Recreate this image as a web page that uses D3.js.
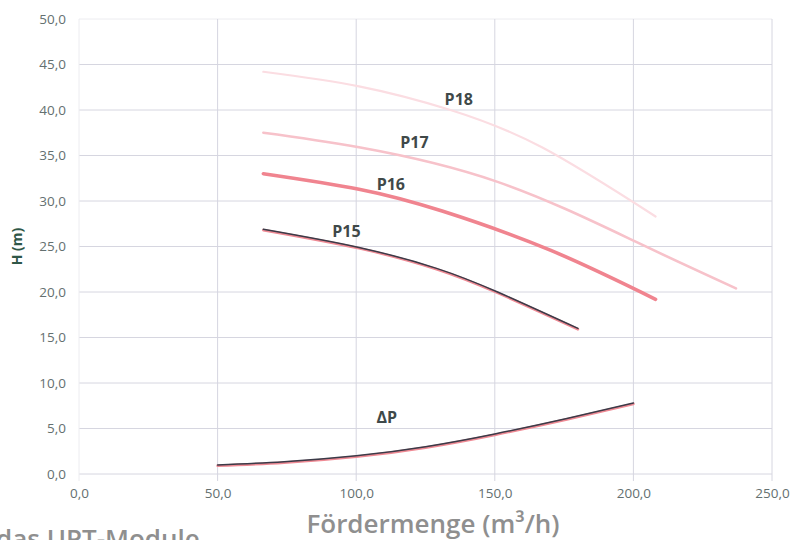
<!DOCTYPE html>
<html><head><meta charset="utf-8">
<script src="https://cdn.jsdelivr.net/npm/d3@7"></script>
<style>
html,body{margin:0;padding:0;background:#fff;overflow:hidden}
svg{display:block}
</style></head>
<body>
<svg id="chart" width="792" height="540"></svg>
<script>
// ---- data ----
const xTicks = [0, 50, 100, 150, 200, 250];
const yTicks = [0, 5, 10, 15, 20, 25, 30, 35, 40, 45, 50];
const seriesNames = ["P18", "P17", "P16", "P15", "ΔP"];
const p18 = [[66.5, 44.2], [101, 42.6], [134, 40.0], [167, 35.9], [208, 28.3]];
const p17 = [[66.5, 37.5], [101, 35.9], [151, 32.1], [201, 25.5], [237, 20.4]];
const p16 = [[66.5, 33.0], [101, 31.3], [131, 28.9], [170, 24.6], [208, 19.2]];
const p15 = [[66.5, 26.9], [101, 24.9], [129, 22.6], [151, 20.0], [180, 16.0]];
const dP  = [[50, 1.0], [74, 1.35], [100, 2.0], [125, 3.0], [150, 4.4], [176, 6.1], [200, 7.8]];
// label anchor positions in data units
const labelPos = [[137, 41.2], [121, 36.5], [112.5, 31.85], [96.5, 26.7], [111, 6.3]];

// ---- layout ----
const svg = d3.select("#chart");
const x = d3.scaleLinear().domain([0, 250]).range([79, 772]);
const y = d3.scaleLinear().domain([0, 50]).range([474, 19]);
const fmt = v => d3.format(".1f")(v).replace(".", ",");

// grid
const grid = svg.append("g");
grid.selectAll("line.h").data(yTicks).enter().append("line")
  .attr("x1", x(0)).attr("x2", x(250))
  .attr("y1", d => y(d)).attr("y2", d => y(d))
  .attr("stroke", d => d === 50 ? "#ececf0" : "#d6d6e0").attr("stroke-width", 1);
grid.selectAll("line.v").data(xTicks).enter().append("line")
  .attr("x1", d => x(d)).attr("x2", d => x(d))
  .attr("y1", y(50)).attr("y2", y(0) + 7)
  .attr("stroke", d => d === 0 ? "#ececf0" : "#d6d6e0").attr("stroke-width", 1);

// axes
const xAxis = d3.axisBottom(x).tickValues(xTicks).tickFormat(fmt).tickSize(0).tickPadding(14);
const gx = svg.append("g").attr("transform", `translate(0,${y(0)})`).call(xAxis);
const yAxis = d3.axisLeft(y).tickValues(yTicks).tickFormat(fmt).tickSize(0).tickPadding(13);
const gy = svg.append("g").attr("transform", `translate(${x(0)},0)`).call(yAxis);
[gx, gy].forEach(g => {
  g.select(".domain").remove();
  g.selectAll("text").attr("fill", "#647070").style("font-family", "'Open Sans', sans-serif").style("font-size", "13.5px");
});

// curves
const line = d3.line().x(d => x(d[0])).y(d => y(d[1])).curve(d3.curveNatural);
const curves = svg.append("g").attr("fill", "none").attr("stroke-linecap", "round");
curves.append("path").attr("d", line(p18)).attr("stroke", "#fbdde2").attr("stroke-width", 2.2);
curves.append("path").attr("d", line(p17)).attr("stroke", "#f7c2ca").attr("stroke-width", 2.6);
curves.append("path").attr("d", line(p16)).attr("stroke", "#f0848f").attr("stroke-width", 3.6);
[p15, dP].forEach(s => {
  curves.append("path").attr("d", line(s)).attr("stroke", "#ef8a94").attr("stroke-width", 2.6).attr("transform", "translate(0,0.9)");
  curves.append("path").attr("d", line(s)).attr("stroke", "#3b3b48").attr("stroke-width", 1.5);
});

// curve labels
svg.append("g").selectAll("text").data(seriesNames).enter().append("text")
  .attr("x", (d, i) => x(labelPos[i][0])).attr("y", (d, i) => y(labelPos[i][1]))
  .attr("text-anchor", "middle").attr("dominant-baseline", "central")
  .attr("fill", "#3f4949").style("font-family", "'Open Sans', sans-serif")
  .style("font-weight", "700").style("font-size", "16px").text(d => d);

// axis titles
svg.append("text").attr("transform", `translate(22,${y(25)}) rotate(-90)`)
  .attr("text-anchor", "middle").attr("fill", "#2f5747")
  .style("font-family", "'Open Sans', sans-serif").style("font-weight", "700").style("font-size", "14px")
  .text("H (m)");
svg.append("text").attr("x", 433).attr("y", 533).attr("text-anchor", "middle")
  .attr("fill", "#8f8f8f").style("font-family", "'Open Sans', sans-serif").style("font-weight", "600").style("font-size", "26px")
  .text("Fördermenge (m³/h)");
svg.append("text").attr("x", -4).attr("y", 548)
  .attr("fill", "#8f8f8f").style("font-family", "'Open Sans', sans-serif").style("font-weight", "600").style("font-size", "26px")
  .text("das UPT-Module");
</script>
</body></html>
